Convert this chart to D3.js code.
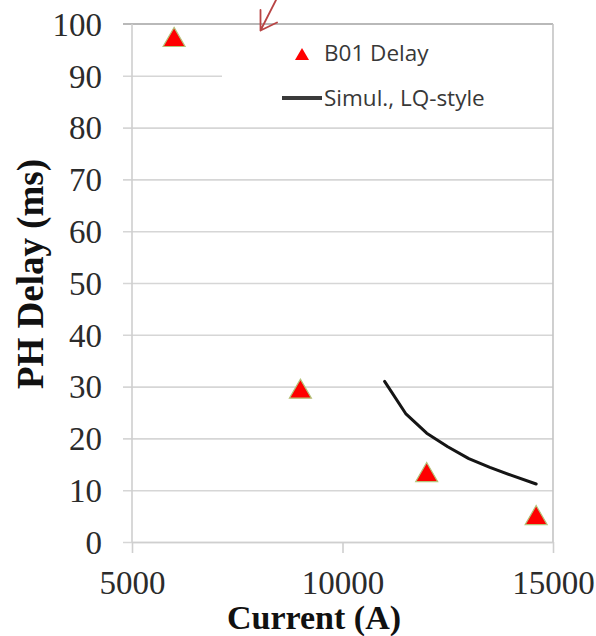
<!DOCTYPE html>
<html>
<head>
<meta charset="utf-8">
<script src="https://cdn.jsdelivr.net/npm/d3@7"></script>
<style>
  html, body { margin: 0; padding: 0; background: #fff; }
  svg { display: block; }
</style>
</head>
<body>
<svg id="chart" width="596" height="636"></svg>
<script>
// Measured PH delay (B01) versus current
const delayCurrent = [6000, 9000, 12000, 14600];
const delayMs      = [97.5, 29.6, 13.5, 5.2];

// Simulated LQ-style delay curve
const simCurrent = [11000, 11500, 12000, 12500, 13000, 13500, 14000, 14600];
const simMs      = [31.0, 24.8, 21.0, 18.4, 16.1, 14.4, 12.9, 11.2];

// Axis ticks
const xTicks = [5000, 10000, 15000];
const yTicks = [0, 10, 20, 30, 40, 50, 60, 70, 80, 90, 100];

const legendLabels = ["B01 Delay", "Simul., LQ-style"];

const svg = d3.select("#chart");
const margin = { top: 24, right: 43, bottom: 94, left: 132 };
const W = 596, H = 636;
const iw = W - margin.left - margin.right;
const ih = H - margin.top - margin.bottom;

const x = d3.scaleLinear().domain([5000, 15000]).range([margin.left, margin.left + iw]);
const y = d3.scaleLinear().domain([0, 100]).range([margin.top + ih, margin.top]);

// Horizontal gridlines with outward tick stubs
const grid = svg.append("g")
  .attr("transform", `translate(${margin.left},0)`)
  .call(d3.axisLeft(y).tickValues(yTicks.filter(d => d < 100)).tickSize(-iw).tickSizeOuter(0).tickFormat(""));
grid.select(".domain").remove();
grid.selectAll(".tick line")
  .attr("x1", -9)
  .attr("stroke", "#d6d6d6")
  .attr("stroke-width", 1.6);

// Legend box (white background masks gridlines behind it)
const legend = svg.append("g");
legend.append("rect")
  .attr("x", 222).attr("y", y(100))
  .attr("width", x(15000) - 222).attr("height", 95)
  .attr("fill", "#fff");

// Plot-area frame: top and right edges, left axis line
const frame = svg.append("g");
frame.append("line")
  .attr("x1", x(5000) - 9).attr("x2", x(15000))
  .attr("y1", y(100)).attr("y2", y(100))
  .attr("stroke", "#b9b9b9").attr("stroke-width", 2);
frame.append("line")
  .attr("x1", x(15000)).attr("x2", x(15000))
  .attr("y1", y(100)).attr("y2", y(0))
  .attr("stroke", "#c4c4c4").attr("stroke-width", 1.6);
frame.append("line")
  .attr("x1", x(5000)).attr("x2", x(5000))
  .attr("y1", y(100)).attr("y2", y(0))
  .attr("stroke", "#cfcfcf").attr("stroke-width", 1.6);

// Y tick labels
const yAxis = svg.append("g")
  .attr("transform", `translate(${margin.left},0)`)
  .call(d3.axisLeft(y).tickValues(yTicks).tickSize(0).tickPadding(30).tickFormat(d3.format("d")));
yAxis.select(".domain").remove();
yAxis.selectAll("text")
  .attr("font-family", "'Liberation Serif', 'Times New Roman', serif")
  .attr("font-size", 33)
  .attr("fill", "#2b2b2b")
  .attr("dy", "0.34em");

// X axis
const xAxis = svg.append("g")
  .attr("transform", `translate(0,${margin.top + ih})`)
  .call(d3.axisBottom(x).tickValues(xTicks).tickSize(11).tickSizeOuter(0).tickPadding(18).tickFormat(d3.format("d")));
xAxis.select(".domain")
  .attr("stroke", "#cfcfcf").attr("stroke-width", 1.6);
xAxis.selectAll(".tick line").attr("stroke", "#cfcfcf").attr("stroke-width", 1.6);
xAxis.selectAll("text")
  .attr("font-family", "'Liberation Serif', 'Times New Roman', serif")
  .attr("font-size", 33)
  .attr("fill", "#2b2b2b")
  .attr("dy", "0.71em");

// Axis titles
svg.append("text")
  .attr("x", 314).attr("y", 629)
  .attr("text-anchor", "middle")
  .attr("font-family", "'Liberation Serif', 'Times New Roman', serif")
  .attr("font-weight", "bold")
  .attr("font-size", 34)
  .attr("fill", "#111")
  .text("Current (A)");

svg.append("text")
  .attr("transform", "translate(43,274) rotate(-90)")
  .attr("text-anchor", "middle")
  .attr("font-family", "'Liberation Serif', 'Times New Roman', serif")
  .attr("font-weight", "bold")
  .attr("font-size", 37)
  .attr("fill", "#111")
  .text("PH Delay (ms)");

// Simulated curve
const line = d3.line().x(d => x(d[0])).y(d => y(d[1]));
svg.append("path")
  .datum(d3.zip(simCurrent, simMs))
  .attr("d", line)
  .attr("fill", "none")
  .attr("stroke", "#151515")
  .attr("stroke-width", 3)
  .attr("stroke-linejoin", "round")
  .attr("stroke-linecap", "round");

// Triangle markers, centred on their bounding box
const triW = 22;
const triR = triW / (2 * Math.sqrt(3));
const triSize = 3 * Math.sqrt(3) * triR * triR;
const tri = d3.symbol().type(d3.symbolTriangle).size(triSize);
svg.append("g").selectAll("path")
  .data(d3.zip(delayCurrent, delayMs))
  .join("path")
  .attr("d", tri)
  .attr("transform", d => `translate(${x(d[0])},${y(d[1]) + triR / 2})`)
  .attr("fill", "#ff0000")
  .attr("stroke", "#b5c27a")
  .attr("stroke-width", 1.2);

// Legend entries
const legendFont = "'Open Sans', 'DejaVu Sans', sans-serif";
const triSmall = d3.symbol().type(d3.symbolTriangle)
  .size(3 * Math.sqrt(3) * Math.pow(14 / (2 * Math.sqrt(3)), 2));
legend.append("path")
  .attr("d", triSmall)
  .attr("transform", `translate(302,${54 + 14 / (4 * Math.sqrt(3))})`)
  .attr("fill", "#ff0000");
legend.append("text")
  .attr("x", 324).attr("y", 61)
  .attr("font-family", legendFont)
  .attr("font-size", 22.5)
  .attr("fill", "#383838")
  .text(legendLabels[0]);
legend.append("line")
  .attr("x1", 282).attr("x2", 322)
  .attr("y1", 98).attr("y2", 98)
  .attr("stroke", "#3a3a3a").attr("stroke-width", 4);
legend.append("text")
  .attr("x", 324).attr("y", 106)
  .attr("font-family", legendFont)
  .attr("font-size", 22.5)
  .attr("fill", "#383838")
  .text(legendLabels[1]);

// Annotation arrow pointing into the plot corner
svg.append("path")
  .attr("d", "M276,0 L260.5,30.5 M260.5,10 L260.5,30.5 L277,22.5")
  .attr("fill", "none")
  .attr("stroke", "#b84444")
  .attr("stroke-width", 1.8)
  .attr("stroke-linecap", "round")
  .attr("stroke-linejoin", "round");
</script>
</body>
</html>
